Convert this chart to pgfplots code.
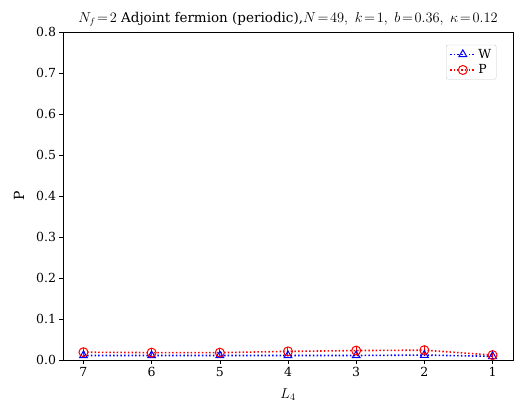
\documentclass[border=0pt]{standalone}
\usepackage{fontspec}
\setmainfont{DejaVu Serif}
\usepackage{pgfplots}
\pgfplotsset{compat=1.18}
\begin{document}
\begin{tikzpicture}[x=1pt,y=1pt]
\path (-63,-56) rectangle (460,360);
\begin{axis}[
  at={(0,0)}, anchor=south west,
  scale only axis, width=450pt, height=328pt,
  x dir=reverse, xmin=0.7, xmax=7.3, ymin=0, ymax=0.8,
  xtick={1,2,3,4,5,6,7},
  ytick={0,0.1,0.2,0.3,0.4,0.5,0.6,0.7,0.8},
  yticklabel style={/pgf/number format/.cd,fixed,fixed zerofill,precision=1},
  /pgf/number format/assume math mode=true,
  tick align=outside, tick pos=left,
  major tick length=3.5pt,
  tick style={black, line width=0.6pt},
  axis line style={line width=0.8pt},
  tick label style={font=\fontsize{12.5}{14}\selectfont},
  xlabel={$L_4$}, ylabel={P},
  xlabel style={font=\fontsize{14}{16}\selectfont, yshift=-5pt},
  ylabel style={font=\fontsize{14}{16}\selectfont, yshift=5pt},
  title={$N_f\!=\!2$ Adjoint fermion (periodic),$N\!=\!49,\ k\!=\!1,\ b\!=\!0.36,\ \kappa\!=\!0.12$},
  title style={font=\fontsize{13.5}{15}\selectfont, yshift=-4pt},
  legend pos=north east,
  legend style={font=\fontsize{12.5}{14}\selectfont, draw=black!20, rounded corners=2pt, cells={anchor=west}, row sep=1pt, xshift=-3pt, yshift=-3pt},
  legend cell align=left,
  legend image code/.code={\draw[mark repeat=2,mark phase=2] plot coordinates {(0cm,0cm) (0.45cm,0cm) (0.9cm,0cm)};},
]
\addplot[blue, dash pattern=on 1.5pt off 2.2pt, line width=1.6pt, mark=triangle, mark size=4.5pt, mark options={solid, line width=1pt}]
  coordinates {(7,0.011) (6,0.011) (5,0.011) (4,0.011) (3,0.011) (2,0.012) (1,0.009)};
\addlegendentry{W}
\addplot[red, dash pattern=on 1.5pt off 2.2pt, line width=1.6pt, mark=o, mark size=4.5pt, mark options={solid, line width=1pt},
  error bars/.cd, y dir=both, y explicit, error bar style={solid, line width=1pt}, error mark options={mark size=3.5pt, line width=1pt}]
  coordinates {(7,0.019) +- (0,0.002) (6,0.018) +- (0,0.002) (5,0.018) +- (0,0.002) (4,0.021) +- (0,0.002) (3,0.023) +- (0,0.002) (2,0.024) +- (0,0.002) (1,0.012) +- (0,0.002)};
\addlegendentry{P}
\end{axis}
\end{tikzpicture}
\end{document}
